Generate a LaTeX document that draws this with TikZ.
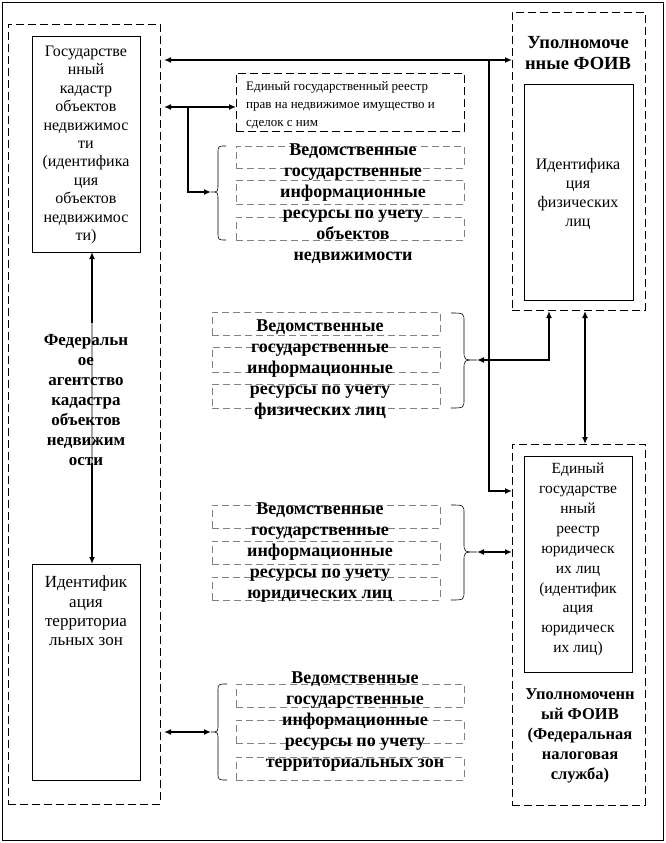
\documentclass[tikz,border=0pt]{standalone}
\usepackage{fontspec}
\setmainfont{Liberation Serif}
\usetikzlibrary{arrows.meta,fit}
\begin{document}
\begin{tikzpicture}[x=1pt,y=-1pt,
  box/.style={draw, line width=0.8pt, inner sep=0pt},
  dbox/.style={draw, dash pattern=on 8pt off 4pt, line width=0.8pt, inner sep=0pt},
  gbox/.style={draw={rgb,255:red,128;green,128;blue,128}, dash pattern=on 7pt off 4pt, line width=0.8pt, inner sep=0pt},
  txt/.style={inner sep=0pt, align=center, font=\fontsize{16}{18.4}\selectfont},
  gtxt/.style={inner sep=0pt, align=center, font=\fontsize{18}{21}\selectfont\bfseries},
  con/.style={line width=2.5pt, {Latex[length=7pt,width=6pt]}-{Latex[length=7pt,width=6pt]}},
  conr/.style={line width=2.5pt, -{Latex[length=7pt,width=6pt]}},
  brace/.style={line width=0.6pt}
]
\useasboundingbox (0,0) rectangle (665,843);
% outer frame
\node[box, fit={(2,2) (663,840)}] (frame) {};
% left dashed block
\node[dbox, fit={(8,24) (160,804)}] (fak) {};
\node[box, fit={(32,36) (140,252)}] (kad) {};
\node[txt] (kadt) at (86,145) {Государстве\\нный\\кадастр\\объектов\\недвижимос\\ти\\(идентифика\\ция\\объектов\\недвижимос\\ти)};
\node[box, fit={(32,564) (140,780)}] (terr) {};
\node[txt, font=\fontsize{17}{19.3}\selectfont] (terrt) at (86,611) {Идентифик\\ация\\территориа\\льных зон};
% vertical connector
\coordinate (kadb) at (92,252);
\coordinate (terrtop) at (92,564);
\draw[con] (kadb) -- (terrtop);
\draw[line width=2.5pt, gray!70] (92,323) -- (92,463);
\node[txt, font=\fontsize{17}{20}\selectfont\bfseries] (fakt) at (86,400) {Федеральн\\ое\\агентство\\кадастра\\объектов\\недвижим\\ости};
% FOIV block
\node[dbox, fit={(512,12) (645,310)}] (foiv) {};
\node[txt, font=\fontsize{18.5}{21}\selectfont\bfseries] (foivt) at (578,53.5) {Уполномоче\\нные ФОИВ};
\node[box, fit={(524,84) (633,300)}] (fiz) {};
\node[txt, font=\fontsize{16}{19}\selectfont] (fizt) at (578,193.5) {Идентифика\\ция\\физических\\лиц};
% FNS block
\node[dbox, fit={(512,444) (645,805)}] (fns) {};
\node[box, fit={(524,456) (632,672)}] (egrul) {};
\node[txt, font=\fontsize{15.5}{19.9}\selectfont] (egrult) at (578,559.5) {Единый\\государстве\\нный\\реестр\\юридическ\\их лиц\\(идентифик\\ация\\юридическ\\их лиц)};
\node[txt, font=\fontsize{16.5}{20}\selectfont\bfseries] (fnst) at (580,736) {Уполномоченн\\ый ФОИВ\\(Федеральная\\налоговая\\служба)};
% registry
\node[dbox, fit={(236,73) (464,131)}] (reg) {};
\node[inner sep=0pt, align=left, anchor=west, font=\fontsize{13}{18}\selectfont] (regt) at (246,105) {Единый государственный реестр\\прав на недвижимое имущество и\\сделок с ним};
% group 1
\node[gbox, fit={(236,146) (464,168)}] (g1a) {};
\node[gbox, fit={(236,180) (464,204)}] (g1b) {};
\node[gbox, fit={(236,217) (464,240)}] (g1c) {};
\node[gtxt] (g1t) at (353,203.5) {Ведомственные\\государственные\\информационные\\ресурсы по учету\\объектов\\недвижимости};
% group 2
\node[gbox, fit={(212,312) (440,335)}] (g2a) {};
\node[gbox, fit={(212,347) (440,372)}] (g2b) {};
\node[gbox, fit={(212,384) (440,408)}] (g2c) {};
\node[gtxt] (g2t) at (320,369.5) {Ведомственные\\государственные\\информационные\\ресурсы по учету\\физических лиц};
% group 3
\node[gbox, fit={(212,505) (440,528)}] (g3a) {};
\node[gbox, fit={(212,541) (440,564)}] (g3b) {};
\node[gbox, fit={(212,577) (440,600)}] (g3c) {};
\node[gtxt] (g3t) at (320,552.5) {Ведомственные\\государственные\\информационные\\ресурсы по учету\\юридических лиц};
% group 4
\node[gbox, fit={(236,684) (464,707)}] (g4a) {};
\node[gbox, fit={(236,720) (464,743)}] (g4b) {};
\node[gbox, fit={(236,757) (464,780)}] (g4c) {};
\node[gtxt] (g4t) at (355,721.5) {Ведомственные\\государственные\\информационные\\ресурсы по учету\\территориальных зон};
% braces
\coordinate (b1) at (211,192);
\draw[brace] (226,146) .. controls (218,146) .. (218,154) -- (218,184) .. controls (218,192) .. (b1) .. controls (218,192) .. (218,200) -- (218,232) .. controls (218,240) .. (226,240);
\coordinate (b4) at (211,732);
\draw[brace] (227,684) .. controls (218,684) .. (218,692) -- (218,724) .. controls (218,732) .. (b4) .. controls (218,732) .. (218,740) -- (218,772) .. controls (218,780) .. (227,780);
\coordinate (b2) at (477,360);
\draw[brace] (451,313) .. controls (464,313) .. (464,322) -- (464,351) .. controls (464,360) .. (b2) .. controls (464,360) .. (464,369) -- (464,399) .. controls (464,408) .. (451,408);
\coordinate (b3) at (477,552);
\draw[brace] (451,505) .. controls (464,505) .. (464,514) -- (464,543) .. controls (464,552) .. (b3) .. controls (464,552) .. (464,561) -- (464,591) .. controls (464,600) .. (451,600);
% connectors
\coordinate (a1l) at (164,60);
\coordinate (a1r) at (512,60);
\draw[con, line width=2pt] (a1l) -- (a1r);
\coordinate (v1) at (489,60);
\coordinate (fnsin) at (512,491);
\draw[conr] (v1) |- (fnsin);
\coordinate (a2l) at (164,107);
\coordinate (a2r) at (236,107);
\draw[con] (a2l) -- (a2r);
\coordinate (v2) at (188,107);
\draw[conr] (v2) |- (b1);
\coordinate (f1) at (549,311);
\draw[con] (b2) -| (f1);
\coordinate (f2) at (585,311);
\coordinate (f2b) at (585,444);
\draw[con] (f2) -- (f2b);
\coordinate (fns3) at (512,552);
\draw[con] (b3) -- (fns3);
\coordinate (fak4) at (164,732);
\draw[con] (b4) -- (fak4);
\end{tikzpicture}
\end{document}
